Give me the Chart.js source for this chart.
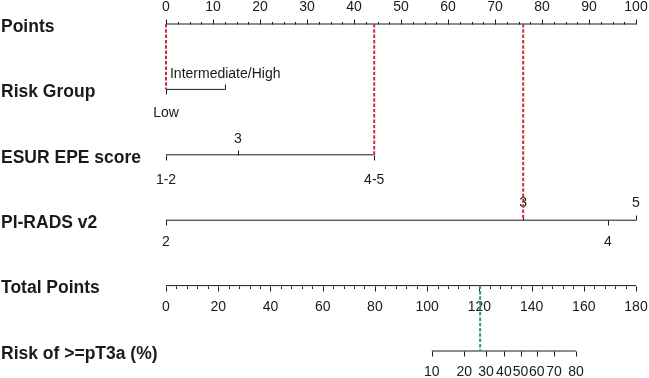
<!DOCTYPE html>
<html>
<head>
<meta charset="utf-8">
<script src="https://cdn.jsdelivr.net/npm/chart.js@4/dist/chart.umd.min.js"></script>
<style>
  html, body { margin: 0; padding: 0; background: #fff; }
  #wrap { width: 649px; height: 378px; position: relative; }
</style>
</head>
<body>
<div id="wrap"><canvas id="nomo"></canvas></div>
<script>
  // row titles, top to bottom
  const rowNames = ['Points', 'Risk Group', 'ESUR EPE score', 'PI-RADS v2', 'Total Points', 'Risk of >=pT3a (%)'];

  // points scale (0-100)
  const pointsTicks = [0, 10, 20, 30, 40, 50, 60, 70, 80, 90, 100];
  const pointsMinor = [2.5, 5, 7.5, 12.5, 15, 17.5, 22.5, 25, 27.5, 32.5, 35, 37.5, 42.5, 45, 47.5,
    52.5, 55, 57.5, 62.5, 65, 67.5, 72.5, 75, 77.5, 82.5, 85, 87.5, 92.5, 95, 97.5];

  // predictors: label -> points
  const riskGroupLabels = ['Low', 'Intermediate/High'];
  const riskGroupPoints = [0, 12.6];
  const riskGroupAbove = [false, true];

  const esurLabels = ['1-2', '3', '4-5'];
  const esurPoints = [0, 15.3, 44.3];
  const esurAbove = [false, true, false];

  const piradsLabels = ['2', '3', '4', '5'];
  const piradsPoints = [0, 76, 94, 100];
  const piradsAbove = [false, true, false, true];

  // total points scale (0-180)
  const totalTicks = [0, 20, 40, 60, 80, 100, 120, 140, 160, 180];
  const totalMinor = [4, 8, 12, 16, 24, 28, 32, 36, 44, 48, 52, 56, 64, 68, 72, 76, 84, 88, 92, 96,
    104, 108, 112, 116, 124, 128, 132, 136, 144, 148, 152, 156, 164, 168, 172, 176];

  // risk labels and where they sit on total points
  const riskLabels = ['10', '20', '30', '40', '50', '60', '70', '80'];
  const riskTotals = [101.8, 114.2, 122.6, 129.4, 135.8, 142.0, 148.6, 157.0];

  // example patient: Low, ESUR 4-5, PI-RADS 3
  const selectedPoints = [0, 44.3, 76];
  const selectedTotal = 120.3;

  const ink = '#1a1a1a';
  const red = '#cc2f3b';
  const green = '#22a35a';

  const itemRows = [
    { row: 1, labels: riskGroupLabels, pts: riskGroupPoints, above: riskGroupAbove, upGap: 15, downGap: 24 },
    { row: 2, labels: esurLabels, pts: esurPoints, above: esurAbove, upGap: 16, downGap: 25 },
    { row: 3, labels: piradsLabels, pts: piradsPoints, above: piradsAbove, upGap: 17, downGap: 22 }
  ];

  const seg = (x0, x1, y) => [{ x: x0, y: y }, { x: x1, y: y }];

  const datasets = [];
  // red dashed guide lines from the points axis
  selectedPoints.forEach((p, i) => {
    datasets.push({ data: [{ x: p, y: 0 }, { x: p, y: i + 1 }], borderColor: red, borderWidth: 2, borderDash: [3.5, 1.8], order: 0 });
  });
  datasets.push({ xAxisID: 'tp', data: [{ x: selectedTotal, y: 4 }, { x: selectedTotal, y: 5 }], borderColor: green, borderWidth: 2, borderDash: [3.5, 1.8], order: 0 });
  // axis lines
  datasets.push({ data: seg(pointsTicks[0], pointsTicks[pointsTicks.length - 1], 0), borderColor: ink, borderWidth: 1, order: 1 });
  itemRows.forEach(r => {
    datasets.push({ data: seg(Math.min(...r.pts), Math.max(...r.pts), r.row), borderColor: ink, borderWidth: 1, order: 1 });
  });
  datasets.push({ xAxisID: 'tp', data: seg(totalTicks[0], totalTicks[totalTicks.length - 1], 4), borderColor: ink, borderWidth: 1, order: 1 });
  datasets.push({ xAxisID: 'tp', data: seg(riskTotals[0], riskTotals[riskTotals.length - 1], 5), borderColor: ink, borderWidth: 1, order: 1 });

  const nomoPlugin = {
    id: 'nomo',
    beforeDatasetsDraw(chart) {
      const ctx = chart.ctx;
      const xs = chart.scales.x, tp = chart.scales.tp, ys = chart.scales.y;
      const tickFont = '14px "Liberation Sans", Arial, sans-serif';
      ctx.save();
      ctx.strokeStyle = ink;
      ctx.fillStyle = ink;
      ctx.lineWidth = 1;

      const vtick = (px, py, len) => {
        const x = Math.round(px) + 0.5;
        ctx.beginPath();
        ctx.moveTo(x, py);
        ctx.lineTo(x, py + len);
        ctx.stroke();
      };

      // row titles
      ctx.font = 'bold 17.5px "Liberation Sans", Arial, sans-serif';
      ctx.textAlign = 'left';
      ctx.textBaseline = 'middle';
      rowNames.forEach((name, i) => {
        ctx.fillText(name, 1, ys.getPixelForValue(i) + 3);
      });

      ctx.font = tickFont;
      ctx.textAlign = 'center';

      // points axis: ticks up, labels above
      const y0 = Math.round(ys.getPixelForValue(0)) + 0.5;
      pointsTicks.forEach(v => {
        const px = xs.getPixelForValue(v);
        vtick(px, y0, -5);
        ctx.fillText(String(v), px, y0 - 17);
      });
      pointsMinor.forEach(v => vtick(xs.getPixelForValue(v), y0, -2.5));

      // predictor rows
      itemRows.forEach(r => {
        const py = Math.round(ys.getPixelForValue(r.row)) + 0.5;
        r.pts.forEach((p, i) => {
          const px = xs.getPixelForValue(p);
          if (r.above[i]) {
            vtick(px, py, -5);
            ctx.fillText(r.labels[i], px, py - r.upGap);
          } else {
            vtick(px, py, 5);
            ctx.fillText(r.labels[i], px, py + r.downGap);
          }
        });
      });

      // total points: ticks down, labels below
      const y4 = Math.round(ys.getPixelForValue(4)) + 0.5;
      totalTicks.forEach(v => {
        const px = tp.getPixelForValue(v);
        vtick(px, y4, 5);
        ctx.fillText(String(v), px, y4 + 21);
      });
      totalMinor.forEach(v => vtick(tp.getPixelForValue(v), y4, 2.5));

      // risk axis
      const y5 = Math.round(ys.getPixelForValue(5)) + 0.5;
      riskTotals.forEach((v, i) => {
        const px = tp.getPixelForValue(v);
        vtick(px, y5, 5);
        ctx.fillText(riskLabels[i], px, y5 + 21);
      });

      ctx.restore();
    }
  };

  new Chart(document.getElementById('nomo').getContext('2d'), {
    type: 'scatter',
    data: { datasets: datasets.map(d => Object.assign({ showLine: true, pointRadius: 0, fill: false, clip: false }, d)) },
    options: {
      responsive: true,
      maintainAspectRatio: false,
      animation: false,
      layout: { padding: { left: 166, right: 13, top: 24, bottom: 27 } },
      plugins: { legend: { display: false }, tooltip: { enabled: false } },
      scales: {
        x: { type: 'linear', min: 0, max: 100, display: false },
        tp: { type: 'linear', axis: 'x', min: 0, max: 180, display: false },
        y: { type: 'linear', min: 0, max: 5, reverse: true, display: false }
      }
    },
    plugins: [nomoPlugin]
  });
</script>
</body>
</html>
